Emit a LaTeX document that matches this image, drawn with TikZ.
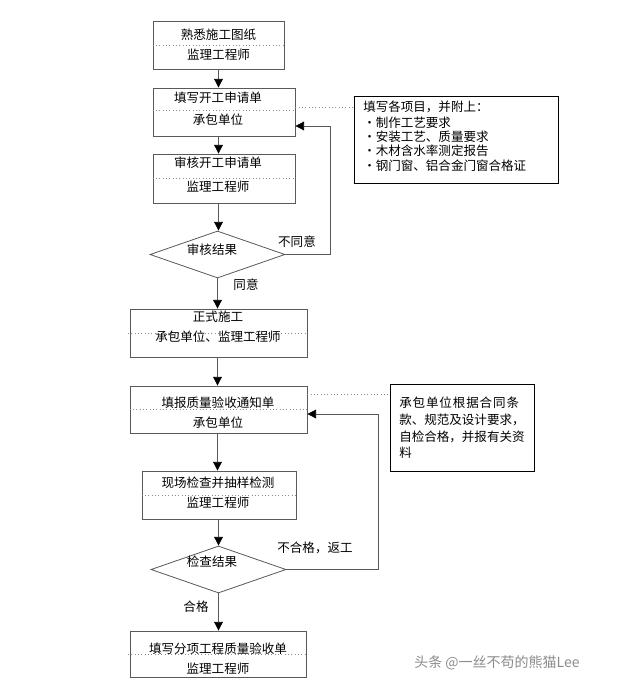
\documentclass[tikz,border=0pt]{standalone}
\usepackage{fontspec}
\setmainfont{Liberation Sans}
\newfontfamily\cjk{Noto Sans CJK SC}
\usetikzlibrary{shapes.geometric,arrows.meta}
\begin{document}
\begin{tikzpicture}[x=0.75pt,y=-0.75pt,
  every node/.style={font=\cjk\fontsize{9.4}{11}\selectfont, inner sep=0pt},
  pbox/.style={draw=black!65, line width=0.6pt, rectangle},
  sbox/.style={draw=black, line width=0.7pt, rectangle},
  dbox/.style={draw=black!65, line width=0.6pt, diamond},
  dotl/.style={draw=black!45, dotted, line width=0.5pt},
  conn/.style={draw=black!65, line width=0.6pt},
  arr/.style={conn, -{Triangle[length=6.5pt,width=6.5pt,fill=black,color=black]}},
  txt/.style={anchor=center, text=black},
  lbl/.style={anchor=center, text=black}
]
\useasboundingbox (0,0) rectangle (620,685);
\fill[white] (0,0) rectangle (620,685);

% boxes
\node[pbox, minimum width={131*0.75pt}, minimum height={48*0.75pt}] (b1) at (218.5,45) {};
\node[pbox, minimum width={142*0.75pt}, minimum height={48*0.75pt}] (b2) at (224,112) {};
\node[pbox, minimum width={142*0.75pt}, minimum height={49*0.75pt}] (b3) at (224,178.5) {};
\node[dbox, minimum width={135*0.75pt}, minimum height={47*0.75pt}] (d1) at (217.5,254.5) {};
\node[pbox, minimum width={177*0.75pt}, minimum height={48*0.75pt}] (b4) at (218.5,333) {};
\node[pbox, minimum width={177*0.75pt}, minimum height={47*0.75pt}] (b5) at (218.5,409.5) {};
\node[pbox, minimum width={154*0.75pt}, minimum height={48*0.75pt}] (b6) at (219,495) {};
\node[dbox, minimum width={135*0.75pt}, minimum height={47*0.75pt}] (d2) at (218.5,569.5) {};
\node[pbox, minimum width={176*0.75pt}, minimum height={46*0.75pt}] (b7) at (218,654) {};

% side boxes
\node[sbox, minimum width={204*0.75pt}, minimum height={87*0.75pt}] (s1) at (456,139.5) {};
\node[sbox, minimum width={144*0.75pt}, minimum height={87*0.75pt}] (s2) at (462,427.5) {};

% dotted separators
\draw[dotl] (b1.west |- 0,45) -- (b1.east |- 0,45);
\draw[dotl] (b2.west |- 0,110) -- (b2.east |- 0,110);
\draw[dotl] (b3.west |- 0,178) -- (b3.east |- 0,178);
\draw[dotl] (128,333) -- (b4.east |- 0,333);
\draw[dotl] (b5.west |- 0,409) -- (b5.east |- 0,409);
\draw[dotl] (b6.west |- 0,495) -- (b6.east |- 0,495);
\draw[dotl] (128,654) -- (b7.east |- 0,654);

% dotted leaders to side boxes
\draw[dotl] (b2.east |- 0,107) -- (s1.west |- 0,107);
\draw[dotl] (b5.east |- 0,394) -- (s2.west |- 0,394);

% box texts
\node[txt] (t1a) at (218.5,35) {熟悉施工图纸};
\node[txt] (t1b) at (218.5,55) {监理工程师};
\node[txt] (t2a) at (218,98) {填写开工申请单};
\node[txt] (t2b) at (218,120) {承包单位};
\node[txt] (t3a) at (218,163) {审核开工申请单};
\node[txt] (t3b) at (218,187) {监理工程师};
\node[txt] (td1) at (212,250) {审核结果};
\node[txt] (t4a) at (218,317) {正式施工};
\node[txt] (t4b) at (218,337) {承包单位、监理工程师};
\node[txt] (t5a) at (218,403) {填报质量验收通知单};
\node[txt] (t5b) at (218,423) {承包单位};
\node[txt] (t6a) at (218,483) {现场检查并抽样检测};
\node[txt] (t6b) at (218,503) {监理工程师};
\node[txt] (td2) at (212,562) {检查结果};
\node[txt] (t7a) at (218,649) {填写分项工程质量验收单};
\node[txt] (t7b) at (218,669) {监理工程师};

% side box texts
\node[txt, anchor=west] (s1a) at (363,107) {填写各项目，并附上：};
\node[txt, anchor=west] (s1b) at (363,123) {・制作工艺要求};
\node[txt, anchor=west] (s1c) at (363,137) {・安装工艺、质量要求};
\node[txt, anchor=west] (s1d) at (363,151) {・木材含水率测定报告};
\node[txt, anchor=west] (s1e) at (363,166) {・钢门窗、铝合金门窗合格证};
\node[txt, anchor=west] (s2a) at (399,403) {\addfontfeature{LetterSpace=7}承包单位根据合同条};
\node[txt, anchor=west] (s2b) at (399,420) {款、规范及设计要求，};
\node[txt, anchor=west] (s2c) at (399,437) {自检合格，并报有关资};
\node[txt, anchor=west] (s2d) at (399,453) {料};

% labels
\node[lbl] (l1) at (297,242) {不同意};
\node[lbl] (l2) at (246,285) {同意};
\node[lbl] (l3) at (315,548) {不合格，返工};
\node[lbl] (l4) at (196,607) {合格};

% main arrows
\draw[arr] (b1.south) -- (b1.south |- b2.north);
\draw[arr] (b1.south |- b2.south) -- (b1.south |- b3.north);
\draw[arr] (b1.south |- b3.south) -- (b1.south |- d1.north);
\draw[arr] (d1.south) -- (d1.south |- b4.north);
\draw[arr] (d1.south |- b4.south) -- (d1.south |- b5.north);
\draw[arr] (d1.south |- b5.south) -- (d1.south |- b6.north);
\draw[arr] (d2.north |- b6.south) -- (d2.north);
\draw[arr] (d2.south) -- (d2.south |- b7.north);

% feedback loops
\coordinate (f1) at (330,126);
\coordinate (f2) at (378,414);
\draw[arr] (d1.east) -| (f1) -- (b2.east |- f1);
\draw[arr] (d2.east) -| (f2) -- (b5.east |- f2);

% watermark
\node[anchor=west, text=black!45, font=\cjk\fontsize{10.5}{12}\selectfont] (wm) at (414,663) {头条 @一丝不苟的熊猫Lee};
\end{tikzpicture}
\end{document}
